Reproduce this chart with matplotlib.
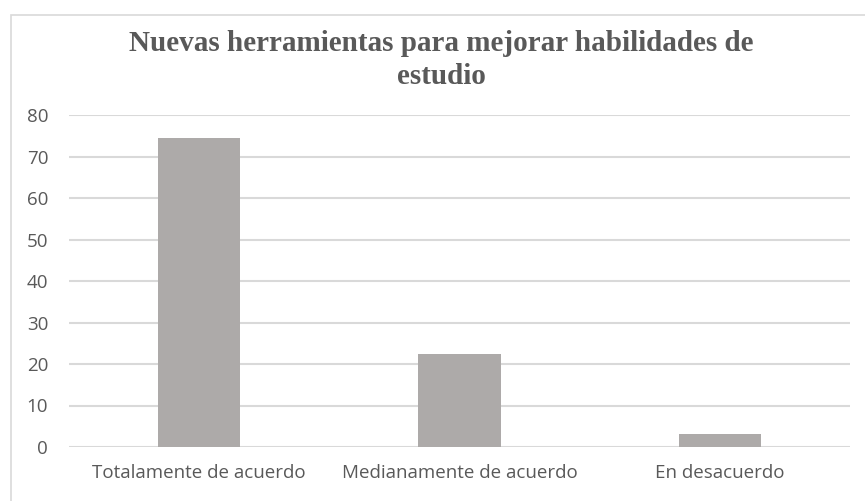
import matplotlib.pyplot as plt
from matplotlib.patches import Rectangle

# Chart data
categories = ["Totalamente de acuerdo", "Medianamente de acuerdo", "En desacuerdo"]
values = [74.5, 22.4, 3.1]
yticks = [0, 10, 20, 30, 40, 50, 60, 70, 80]

TEXT_GREY = "#595959"
BAR_GREY = "#ADAAA9"
GRID_GREY = "#D9D9D9"

fig = plt.figure(figsize=(8.65, 5.01), dpi=100)

# Outer chart frame (light border)
fig.patches.append(Rectangle((11 / 865, -0.01), 1.0, 1 - 15 / 501 + 0.01,
                             transform=fig.transFigure, fill=False,
                             edgecolor="#D9D9D9", linewidth=1.2))

ax = fig.add_axes([69 / 865, 1 - 447 / 501, 781 / 865, 332 / 501])

ax.bar(range(len(categories)), values, width=0.315, color=BAR_GREY, zorder=3)

ax.set_xlim(-0.5, 2.5)
ax.set_ylim(0, 80)
ax.set_yticks(yticks)
ax.set_xticks(range(len(categories)))
ax.set_xticklabels(categories)

ax.yaxis.grid(True, color=GRID_GREY, linewidth=1.5, zorder=0)
ax.set_axisbelow(True)
for s in ax.spines.values():
    s.set_visible(False)
ax.tick_params(length=0, labelsize=13.5, labelcolor=TEXT_GREY)
ax.tick_params(axis="y", pad=15)
ax.tick_params(axis="x", pad=12)
for lbl in ax.get_xticklabels() + ax.get_yticklabels():
    lbl.set_family("Open Sans")

fig.text(0.51, 1 - 60 / 501, "Nuevas herramientas para mejorar habilidades de\nestudio",
         ha="center", va="center", fontsize=21, fontweight="bold",
         family="Liberation Serif", color=TEXT_GREY, linespacing=1.3)

fig.savefig("out.png", dpi=100)
